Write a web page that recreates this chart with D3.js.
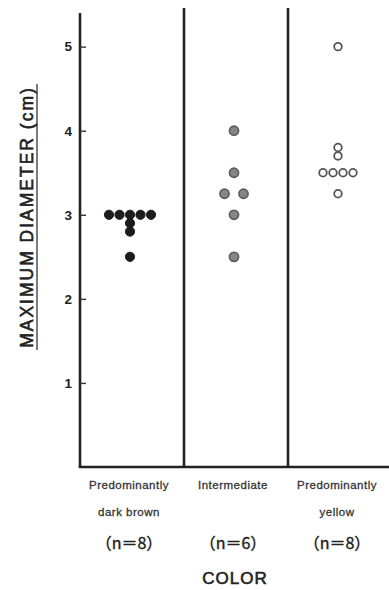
<!DOCTYPE html>
<html lang="en">
  <head>
    <meta charset="utf-8">
    <title>Maximum diameter by color</title>
    <script src="https://d3js.org/d3.v7.js"></script>
    <style>
      body { margin: 0; background: white; }
    </style>
  </head>
  <body>
  <script>

// data

  var categories = ["Predominantly dark brown", "Intermediate", "Predominantly yellow"];
  var labelLines = [["Predominantly", "dark brown"], ["Intermediate"], ["Predominantly", "yellow"]];
  var counts = ["（n＝8）", "（n＝6）", "（n＝8）"];

  var darkBrown = [3.0, 3.0, 3.0, 3.0, 3.0, 2.9, 2.8, 2.5];
  var intermediate = [4.0, 3.5, 3.25, 3.25, 3.0, 2.5];
  var yellow = [5.0, 3.8, 3.7, 3.5, 3.5, 3.5, 3.5, 3.25];

  var yTicks = [1, 2, 3, 4, 5];

  var series = [darkBrown, intermediate, yellow];

// svg and scales

  var w = 389;
  var h = 590;
  var axisX = 80;
  var baseY = 467;

  var svg = d3.select("body")
    .append("svg")
      .attr("width", w)
      .attr("height", h)
      .style("font-family", "'Liberation Sans', Arial, sans-serif");

  var xScale = d3.scaleBand()
      .domain(categories)
      .range([axisX, 392]);

  var yScale = d3.scaleLinear()
      .domain([0, 5.4])
      .range([baseY, 13]);

  // dot styles per group
  var dotStyle = [
    {fill: "#1c1c1c", stroke: "#1c1c1c", sw: 1, r: 4.6, gap: 10.5},
    {fill: "#858585", stroke: "#5a5a5a", sw: 1.6, r: 4.6, gap: 19},
    {fill: "#ffffff", stroke: "#555", sw: 1.8, r: 3.8, gap: 10}
  ];

// frame: y axis, baseline, dividers

  var frame = svg.append("g")
      .attr("stroke", "#222")
      .attr("stroke-width", 2.6)
      .attr("fill", "none");

  frame.append("line")
      .attr("x1", axisX).attr("x2", axisX)
      .attr("y1", yScale(5.4)).attr("y2", baseY);

  frame.append("line")
      .attr("x1", axisX - 1.3).attr("x2", w)
      .attr("y1", baseY).attr("y2", baseY);

  categories.slice(1).forEach(function(c) {
    frame.append("line")
        .attr("x1", xScale(c)).attr("x2", xScale(c))
        .attr("y1", 8).attr("y2", baseY);
  });

// y axis ticks (inward) and labels

  var yAxis = d3.axisLeft(yScale)
      .tickValues(yTicks)
      .tickSizeInner(-6)
      .tickSizeOuter(0)
      .tickPadding(8)
      .tickFormat(d3.format("d"));

  var ya = svg.append("g")
      .attr("transform", `translate(${axisX}, 0)`)
      .call(yAxis);

  ya.select(".domain").remove();
  ya.selectAll(".tick line")
      .attr("stroke", "#333")
      .attr("stroke-width", 1.4);
  ya.selectAll(".tick text")
      .attr("fill", "#222")
      .attr("font-size", 13.5)
      .attr("font-weight", "bold")
      .attr("font-family", "'Liberation Sans', Arial, sans-serif");

// y title, underlined

  var title = svg.append("g")
      .attr("transform", "translate(33, 217) rotate(-90)");

  title.append("text")
      .attr("text-anchor", "middle")
      .attr("font-size", 17.5)
      .attr("letter-spacing", 2)
      .attr("fill", "#222")
      .attr("stroke", "#222")
      .attr("stroke-width", 0.6)
      .text("MAXIMUM DIAMETER (cm)");

  title.append("line")
      .attr("x1", -133).attr("x2", 133)
      .attr("y1", 4).attr("y2", 4)
      .attr("stroke", "#333")
      .attr("stroke-width", 1.3);

// dots: equal values in a group are laid side by side

  series.forEach(function(vals, i) {
    var st = dotStyle[i];
    var cx = xScale(categories[i]) + xScale.bandwidth() / 2 - 2;
    var rows = d3.groups(vals, d => d);
    var pts = [];
    rows.forEach(function(r) {
      var n = r[1].length;
      r[1].forEach(function(v, k) {
        pts.push({v: v, dx: (k - (n - 1) / 2) * st.gap});
      });
    });

    svg.append("g")
      .selectAll("circle")
      .data(pts)
      .enter().append("circle")
        .attr("cx", d => cx + d.dx)
        .attr("cy", d => yScale(d.v))
        .attr("r", st.r)
        .attr("fill", st.fill)
        .attr("stroke", st.stroke)
        .attr("stroke-width", st.sw);
  });

// category labels

  labelLines.forEach(function(lines, i) {
    var cx = xScale(categories[i]) + xScale.bandwidth() / 2 - 3;
    lines.forEach(function(t, j) {
      svg.append("text")
          .attr("x", cx)
          .attr("y", 489 + j * 27)
          .attr("text-anchor", "middle")
          .attr("font-size", 11.5)
          .attr("letter-spacing", 0.5)
          .attr("fill", "#333")
          .attr("stroke", "#333")
          .attr("stroke-width", 0.3)
          .text(t);
    });
    svg.append("text")
        .attr("x", cx)
        .attr("y", 549)
        .attr("text-anchor", "middle")
        .attr("font-size", 16)
        .attr("font-family", "'Noto Sans CJK JP', sans-serif")
        .attr("fill", "#222")
        .attr("stroke", "#222")
        .attr("stroke-width", 0.4)
        .text(counts[i]);
  });

  svg.append("text")
      .attr("x", 235)
      .attr("y", 584)
      .attr("text-anchor", "middle")
      .attr("font-size", 17)
      .attr("letter-spacing", 1)
      .attr("fill", "#222")
      .attr("stroke", "#222")
      .attr("stroke-width", 0.6)
      .text("COLOR");

  </script>
  </body>
</html>
